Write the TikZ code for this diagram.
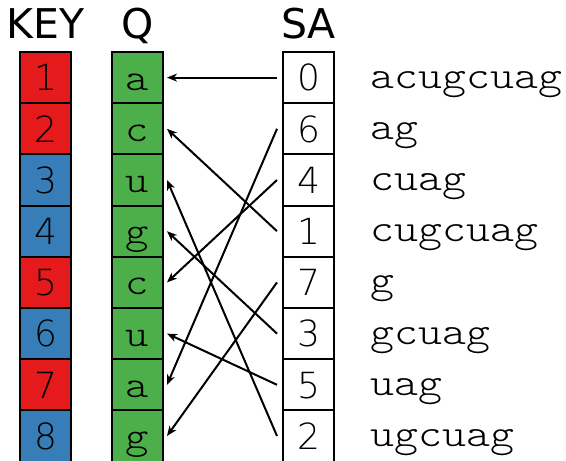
\documentclass[tikz,border=0pt]{standalone}
\usepackage{fontspec}
\usepackage{graphicx}
\setmainfont{DejaVu Sans}
\newfontfamily\thinsans{DejaVu Sans ExtraLight}
\newfontfamily\lightmono{Latin Modern Mono Light}
\newcommand{\mytt}[1]{{\lightmono\scalebox{1.17}[1]{#1}}}
\usetikzlibrary{arrows.meta}
\definecolor{kred}{HTML}{E41A1C}
\definecolor{kblue}{HTML}{377EB8}
\definecolor{qgreen}{HTML}{4DAF4A}
\begin{document}
\begin{tikzpicture}[x=1pt,y=-1pt,
  cell/.style={draw=black, line width=2pt, minimum width=51pt, minimum height=51.2pt,
    inner sep=0pt, outer sep=0pt, anchor=north west},
  digit/.style={font=\thinsans\fontsize{36}{36}\selectfont, text height=26.5pt, text depth=0pt},
  letter/.style={font=\fontsize{38}{38}\selectfont, text height=24.8pt, text depth=0pt},
  header/.style={font=\fontsize{41}{41}\selectfont, anchor=base},
  suffix/.style={font=\fontsize{39}{39}\selectfont, anchor=base west},
  arr/.style={line width=2pt, -{Stealth[length=10pt,width=8pt,inset=3pt]}}
]
\useasboundingbox (0,0) rectangle (566,461);
\node[header] (hkey) at (45.5,38) {KEY};
\node[header] (hq) at (137.5,38) {Q};
\node[header] (hsa) at (308.5,38) {SA};
\foreach \i/\c/\q/\s/\suf in {0/kred/a/0/acugcuag, 1/kred/c/6/ag, 2/kblue/u/4/cuag, 3/kblue/g/1/cugcuag, 4/kred/c/7/g, 5/kblue/u/3/gcuag, 6/kred/a/5/uag, 7/kblue/g/2/ugcuag}{
  \pgfmathsetmacro{\ytop}{52+51.2*\i}
  \pgfmathtruncatemacro{\k}{\i+1}
  \node[cell, digit, fill=\c] (k\i) at (20,\ytop) {\k};
  \node[cell, letter, fill=qgreen] (q\i) at (112,\ytop) {\mytt{\q}};
  \node[cell, digit, fill=white] (s\i) at (283,\ytop) {\s};
  \node[suffix] (t\i) at (367,\ytop+36) {\mytt{\suf}};
}
\foreach \i/\j in {0/0,1/6,2/4,3/1,4/7,5/3,6/5,7/2}{
  \draw[arr] ([xshift=-6pt]s\i.west) -- ([xshift=4pt]q\j.east);
}
\end{tikzpicture}
\end{document}
